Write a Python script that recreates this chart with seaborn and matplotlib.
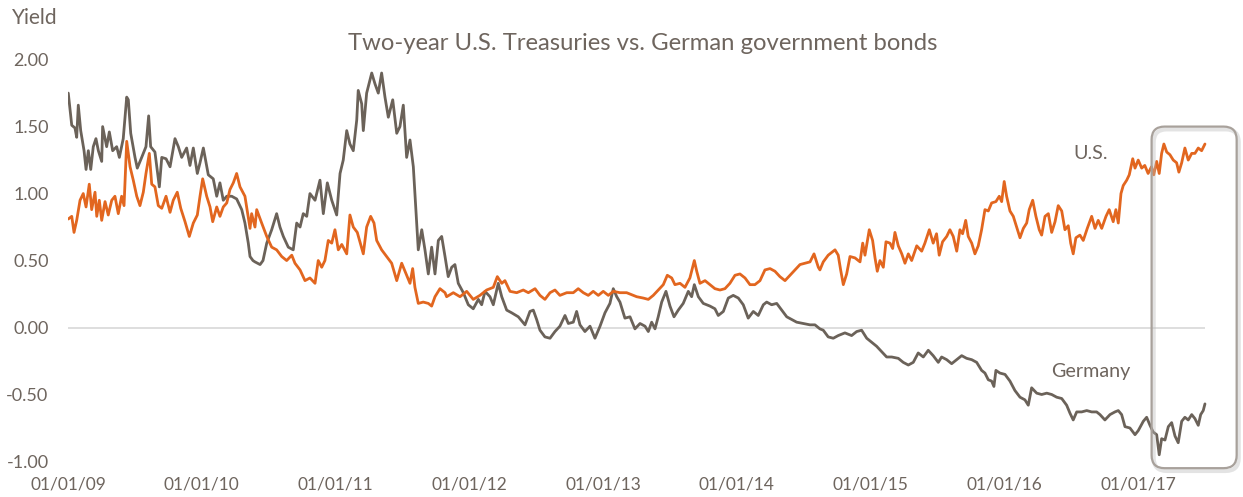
import matplotlib
matplotlib.use("Agg")
import matplotlib.pyplot as plt
import matplotlib.dates as mdates
from matplotlib.patches import FancyBboxPatch
from matplotlib.ticker import FuncFormatter
import matplotlib.patheffects as pe
import numpy as np
import pandas as pd
import seaborn as sns

# years since 2009-01-01 and two-year yields (%)
de_t = [0.002, 0.028, 0.052, 0.065, 0.077, 0.095, 0.120, 0.135, 0.152, 0.170, 0.189, 0.209, 0.227, 0.252, 0.259,
        0.289, 0.309, 0.334, 0.364, 0.384, 0.413, 0.439, 0.451, 0.469, 0.501, 0.518, 0.551, 0.583, 0.603, 0.618,
        0.650, 0.683, 0.701, 0.733, 0.763, 0.800, 0.825, 0.850, 0.887, 0.912, 0.937, 0.967, 0.987, 1.012, 1.049,
        1.086, 1.112, 1.136, 1.161, 1.187, 1.224, 1.261, 1.299, 1.323, 1.348, 1.361, 1.383, 1.398, 1.436, 1.458,
        1.486, 1.523, 1.560, 1.585, 1.610, 1.647, 1.684, 1.710, 1.735, 1.759, 1.785, 1.809, 1.847, 1.884, 1.909,
        1.939, 1.972, 2.009, 2.034, 2.058, 2.084, 2.108, 2.133, 2.159, 2.170, 2.196, 2.208, 2.233, 2.271, 2.295,
        2.320, 2.345, 2.370, 2.395, 2.428, 2.458, 2.482, 2.507, 2.532, 2.557, 2.582, 2.607, 2.619, 2.645, 2.669,
        2.694, 2.719, 2.744, 2.769, 2.794, 2.819, 2.843, 2.869, 2.893, 2.918, 2.956, 2.993, 3.030, 3.068, 3.093,
        3.118, 3.155, 3.180, 3.217, 3.243, 3.280, 3.317, 3.367, 3.417, 3.454, 3.479, 3.504, 3.529, 3.566, 3.604,
        3.641, 3.678, 3.716, 3.741, 3.778, 3.803, 3.828, 3.865, 3.903, 3.940, 3.978, 4.015, 4.052, 4.077, 4.103,
        4.127, 4.164, 4.202, 4.239, 4.277, 4.314, 4.339, 4.364, 4.389, 4.413, 4.439, 4.471, 4.501, 4.531, 4.563,
        4.600, 4.638, 4.663, 4.683, 4.713, 4.750, 4.800, 4.837, 4.862, 4.900, 4.937, 4.974, 5.012, 5.049, 5.086,
        5.124, 5.161, 5.199, 5.224, 5.261, 5.299, 5.336, 5.374, 5.411, 5.448, 5.498, 5.548, 5.585, 5.622, 5.647,
        5.684, 5.722, 5.759, 5.809, 5.859, 5.897, 5.934, 5.972, 6.009, 6.046, 6.084, 6.121, 6.159, 6.208, 6.245,
        6.283, 6.320, 6.357, 6.395, 6.432, 6.469, 6.507, 6.532, 6.570, 6.607, 6.645, 6.682, 6.719, 6.757, 6.794,
        6.831, 6.856, 6.881, 6.906, 6.923, 6.938, 6.968, 7.006, 7.043, 7.080, 7.118, 7.155, 7.180, 7.205, 7.243,
        7.280, 7.318, 7.355, 7.392, 7.430, 7.467, 7.492, 7.516, 7.542, 7.579, 7.617, 7.654, 7.691, 7.716, 7.753,
        7.791, 7.828, 7.853, 7.878, 7.903, 7.940, 7.978, 8.002, 8.040, 8.065, 8.090, 8.114, 8.140, 8.159, 8.177,
        8.202, 8.227, 8.252, 8.277, 8.301, 8.327, 8.351, 8.376, 8.402, 8.426, 8.451, 8.469, 8.488, 8.501]
de_yield = [1.75, 1.51, 1.49, 1.42, 1.66, 1.47, 1.32, 1.18, 1.32, 1.18, 1.35, 1.41, 1.32, 1.24, 1.50,
            1.35, 1.46, 1.32, 1.35, 1.27, 1.41, 1.72, 1.70, 1.45, 1.27, 1.19, 1.27, 1.35, 1.58, 1.35,
            1.31, 1.05, 1.27, 1.26, 1.20, 1.41, 1.35, 1.27, 1.34, 1.21, 1.34, 1.15, 1.23, 1.34, 1.14,
            1.11, 0.98, 1.08, 0.95, 0.98, 0.98, 0.96, 0.88, 0.78, 0.63, 0.53, 0.50, 0.49, 0.47, 0.50,
            0.63, 0.73, 0.85, 0.75, 0.68, 0.60, 0.58, 0.78, 0.75, 0.85, 0.83, 1.00, 0.95, 1.10, 0.85,
            1.08, 0.95, 0.84, 1.15, 1.25, 1.47, 1.37, 1.32, 1.55, 1.77, 1.67, 1.47, 1.75, 1.90, 1.82,
            1.75, 1.90, 1.72, 1.57, 1.70, 1.45, 1.50, 1.66, 1.27, 1.40, 1.20, 0.78, 0.58, 0.73, 0.58,
            0.40, 0.60, 0.40, 0.65, 0.68, 0.53, 0.38, 0.45, 0.47, 0.33, 0.26, 0.17, 0.14, 0.21, 0.17,
            0.27, 0.23, 0.17, 0.33, 0.23, 0.13, 0.11, 0.08, 0.02, 0.12, 0.13, 0.06, -0.02, -0.07, -0.08,
            -0.03, 0.01, 0.09, 0.03, 0.04, 0.12, 0.02, -0.03, 0.01, -0.08, 0.01, 0.11, 0.18, 0.29, 0.23,
            0.19, 0.07, 0.08, -0.01, 0.03, 0.01, -0.03, 0.04, -0.01, 0.08, 0.19, 0.27, 0.16, 0.08, 0.13,
            0.18, 0.27, 0.23, 0.32, 0.23, 0.18, 0.16, 0.14, 0.09, 0.12, 0.22, 0.24, 0.22, 0.17, 0.07,
            0.12, 0.09, 0.17, 0.19, 0.17, 0.18, 0.13, 0.08, 0.06, 0.04, 0.03, 0.02, 0.02, -0.01, -0.02,
            -0.07, -0.08, -0.06, -0.04, -0.06, -0.03, -0.02, -0.08, -0.11, -0.14, -0.18, -0.22, -0.22, -0.23, -0.26,
            -0.28, -0.26, -0.19, -0.22, -0.17, -0.21, -0.26, -0.22, -0.24, -0.27, -0.24, -0.21, -0.23, -0.24, -0.26,
            -0.32, -0.34, -0.39, -0.40, -0.44, -0.32, -0.34, -0.35, -0.40, -0.47, -0.52, -0.54, -0.58, -0.45, -0.49,
            -0.50, -0.49, -0.50, -0.52, -0.53, -0.58, -0.64, -0.69, -0.63, -0.63, -0.62, -0.63, -0.63, -0.65, -0.69,
            -0.65, -0.63, -0.62, -0.65, -0.74, -0.75, -0.80, -0.77, -0.70, -0.67, -0.73, -0.78, -0.80, -0.95, -0.83,
            -0.84, -0.74, -0.71, -0.81, -0.86, -0.70, -0.67, -0.69, -0.65, -0.68, -0.73, -0.65, -0.62, -0.57]

us_t = [0.002, 0.028, 0.045, 0.065, 0.090, 0.114, 0.135, 0.159, 0.177, 0.202, 0.215, 0.234, 0.252, 0.277, 0.301,
        0.327, 0.351, 0.376, 0.401, 0.419, 0.439, 0.464, 0.488, 0.514, 0.538, 0.563, 0.583, 0.608, 0.626, 0.650,
        0.675, 0.701, 0.733, 0.763, 0.787, 0.817, 0.843, 0.875, 0.907, 0.937, 0.967, 0.987, 1.007, 1.037, 1.062,
        1.082, 1.112, 1.136, 1.161, 1.187, 1.211, 1.236, 1.261, 1.286, 1.323, 1.361, 1.373, 1.398, 1.411, 1.448,
        1.486, 1.523, 1.560, 1.598, 1.635, 1.673, 1.697, 1.735, 1.772, 1.809, 1.847, 1.871, 1.897, 1.921, 1.946,
        1.972, 1.996, 2.021, 2.047, 2.084, 2.108, 2.133, 2.163, 2.183, 2.208, 2.233, 2.263, 2.288, 2.308, 2.345,
        2.383, 2.420, 2.458, 2.495, 2.520, 2.557, 2.577, 2.594, 2.619, 2.656, 2.694, 2.719, 2.744, 2.781, 2.819,
        2.831, 2.881, 2.931, 2.981, 3.030, 3.080, 3.130, 3.180, 3.210, 3.243, 3.267, 3.305, 3.355, 3.404, 3.442,
        3.492, 3.529, 3.566, 3.604, 3.641, 3.678, 3.729, 3.778, 3.815, 3.853, 3.890, 3.927, 3.965, 4.002, 4.040,
        4.077, 4.127, 4.177, 4.227, 4.252, 4.301, 4.339, 4.376, 4.413, 4.451, 4.481, 4.514, 4.538, 4.576, 4.613,
        4.650, 4.683, 4.701, 4.725, 4.763, 4.800, 4.837, 4.875, 4.912, 4.949, 4.987, 5.024, 5.062, 5.099, 5.136,
        5.174, 5.211, 5.249, 5.286, 5.323, 5.361, 5.398, 5.436, 5.473, 5.510, 5.548, 5.578, 5.610, 5.622, 5.647,
        5.684, 5.735, 5.759, 5.777, 5.797, 5.822, 5.847, 5.884, 5.922, 5.942, 5.959, 5.991, 6.016, 6.034, 6.051,
        6.071, 6.096, 6.116, 6.146, 6.166, 6.183, 6.208, 6.234, 6.258, 6.283, 6.308, 6.346, 6.383, 6.407, 6.440,
        6.469, 6.494, 6.514, 6.539, 6.570, 6.594, 6.619, 6.645, 6.669, 6.689, 6.712, 6.731, 6.757, 6.781, 6.806,
        6.831, 6.856, 6.881, 6.906, 6.938, 6.963, 6.981, 7.000, 7.018, 7.043, 7.068, 7.093, 7.118, 7.143, 7.168,
        7.187, 7.213, 7.237, 7.262, 7.280, 7.305, 7.330, 7.355, 7.380, 7.404, 7.430, 7.454, 7.479, 7.497, 7.516,
        7.536, 7.566, 7.591, 7.621, 7.654, 7.679, 7.703, 7.729, 7.761, 7.785, 7.815, 7.835, 7.853, 7.873, 7.890,
        7.916, 7.935, 7.961, 7.978, 8.002, 8.028, 8.051, 8.076, 8.101, 8.118, 8.140, 8.159, 8.177, 8.194, 8.215,
        8.239, 8.264, 8.289, 8.306, 8.327, 8.351, 8.376, 8.402, 8.426, 8.451, 8.476, 8.501]
us_yield = [0.81, 0.83, 0.71, 0.80, 0.95, 1.00, 0.90, 1.07, 0.88, 1.01, 0.83, 0.95, 0.80, 0.94, 0.84,
            0.95, 0.98, 0.85, 0.98, 0.91, 1.39, 1.20, 1.10, 0.98, 0.91, 1.01, 1.15, 1.30, 1.07, 1.05,
            0.91, 0.89, 0.98, 0.86, 0.95, 1.01, 0.89, 0.79, 0.68, 0.78, 0.84, 0.98, 1.11, 0.98, 0.90,
            0.79, 0.90, 0.83, 0.90, 0.93, 1.03, 1.08, 1.15, 1.05, 0.98, 0.74, 0.85, 0.75, 0.88, 0.78,
            0.68, 0.60, 0.58, 0.53, 0.50, 0.54, 0.48, 0.43, 0.35, 0.37, 0.33, 0.50, 0.45, 0.50, 0.65,
            0.63, 0.73, 0.58, 0.62, 0.55, 0.84, 0.75, 0.71, 0.64, 0.55, 0.75, 0.83, 0.78, 0.65, 0.58,
            0.53, 0.48, 0.35, 0.48, 0.42, 0.33, 0.44, 0.30, 0.18, 0.19, 0.18, 0.16, 0.23, 0.29, 0.26,
            0.23, 0.26, 0.23, 0.27, 0.21, 0.24, 0.28, 0.30, 0.38, 0.33, 0.35, 0.27, 0.26, 0.28, 0.26,
            0.29, 0.24, 0.21, 0.26, 0.28, 0.24, 0.26, 0.26, 0.29, 0.26, 0.24, 0.27, 0.24, 0.27, 0.24,
            0.27, 0.26, 0.26, 0.24, 0.23, 0.22, 0.21, 0.24, 0.28, 0.32, 0.39, 0.37, 0.32, 0.33, 0.30,
            0.37, 0.50, 0.42, 0.33, 0.35, 0.32, 0.29, 0.28, 0.29, 0.33, 0.39, 0.40, 0.37, 0.32, 0.32,
            0.35, 0.43, 0.44, 0.42, 0.38, 0.35, 0.39, 0.43, 0.47, 0.48, 0.49, 0.55, 0.45, 0.43, 0.49,
            0.54, 0.58, 0.54, 0.43, 0.32, 0.40, 0.53, 0.52, 0.49, 0.63, 0.54, 0.73, 0.65, 0.52, 0.42,
            0.50, 0.45, 0.64, 0.63, 0.59, 0.71, 0.61, 0.55, 0.48, 0.55, 0.50, 0.61, 0.57, 0.63, 0.73,
            0.63, 0.70, 0.54, 0.64, 0.68, 0.73, 0.68, 0.57, 0.73, 0.70, 0.80, 0.68, 0.63, 0.55, 0.61,
            0.73, 0.88, 0.87, 0.93, 0.94, 0.98, 0.94, 1.09, 0.98, 0.87, 0.83, 0.75, 0.67, 0.74, 0.78,
            0.88, 0.95, 0.83, 0.73, 0.69, 0.83, 0.85, 0.71, 0.79, 0.91, 0.87, 0.73, 0.76, 0.63, 0.55,
            0.67, 0.69, 0.65, 0.74, 0.83, 0.74, 0.80, 0.74, 0.83, 0.88, 0.79, 0.88, 0.78, 1.00, 1.06,
            1.10, 1.14, 1.26, 1.19, 1.25, 1.19, 1.21, 1.15, 1.20, 1.14, 1.24, 1.15, 1.30, 1.37, 1.31,
            1.29, 1.25, 1.23, 1.16, 1.23, 1.34, 1.25, 1.30, 1.30, 1.34, 1.32, 1.37]

y_ticks = [-1.0, -0.5, 0.0, 0.5, 1.0, 1.5, 2.0]
highlight_t = (8.102, 8.738)
highlight_y = (-1.05, 1.50)

START = pd.Timestamp("2009-01-01")


def to_date(t):
    return START + pd.to_timedelta(np.asarray(t) * 365.25, unit="D")


orange = "#E2661F"
grey = "#6B6259"
text_c = "#6E655E"

sns.set_style("white")
plt.rcParams["font.family"] = ["Lato", "DejaVu Sans"]

fig = plt.figure(figsize=(12.43, 4.97), dpi=100)
ax = fig.add_axes([68 / 1243, 0.058, (1240 - 68) / 1243, 0.849])

de = pd.DataFrame({"date": to_date(de_t), "yield": de_yield})
us = pd.DataFrame({"date": to_date(us_t), "yield": us_yield})

ax.hlines(0, de["date"].iloc[0], de["date"].iloc[-1], color="#DEDEDE", lw=1.4, zorder=1)
sns.lineplot(data=de, x="date", y="yield", ax=ax, color=grey, lw=2.0, zorder=3)
sns.lineplot(data=us, x="date", y="yield", ax=ax, color=orange, lw=2.0, zorder=3)

ax.set_xlim(to_date(0.0), to_date(8.763))
ax.set_ylim(-1.05, 2.1)
ax.set_yticks(y_ticks)
ax.yaxis.set_major_formatter(FuncFormatter(lambda v, p: f"{v:.2f}"))
ax.xaxis.set_major_locator(mdates.YearLocator())
ax.xaxis.set_major_formatter(mdates.DateFormatter("%m/%d/%y"))
ax.tick_params(axis="y", length=0, pad=14, labelsize=13, labelcolor=text_c)
ax.tick_params(axis="x", length=0, pad=6, labelsize=12.5, labelcolor=text_c)
ax.set_xlabel("")
ax.set_ylabel("")
for s in ax.spines.values():
    s.set_visible(False)

ax.text(to_date(7.649), 1.30, "U.S.", ha="center", va="center", fontsize=14.2, color=text_c)
ax.text(to_date(7.649), -0.33, "Germany", ha="center", va="center", fontsize=14.2, color=text_c)

fig.text(643 / 1243, 1 - 43 / 497, "Two-year U.S. Treasuries vs. German government bonds",
         ha="center", va="center", fontsize=17.2, color=text_c)
fig.text(12 / 1243, 1 - 18 / 497, "Yield", ha="left", va="center", fontsize=15, color=text_c)

# rounded highlight box around 2017
fig.canvas.draw()
x0, y0 = ax.transData.transform((mdates.date2num(to_date(highlight_t[0])), highlight_y[0]))
x1, y1 = ax.transData.transform((mdates.date2num(to_date(highlight_t[1])), highlight_y[1]))
box = FancyBboxPatch((x0, y0), x1 - x0, y1 - y0, boxstyle="round,pad=0,rounding_size=13",
                     transform=None, fill=False, ec="#A8A19B", lw=1.6, zorder=5,
                     path_effects=[pe.SimpleLineShadow(offset=(1.5, -2), shadow_color="#BBBBBB", alpha=0.4,
                                                       linewidth=3), pe.Normal()])
fig.patches.append(box)

fig.savefig("out.png", dpi=100, facecolor="white")
